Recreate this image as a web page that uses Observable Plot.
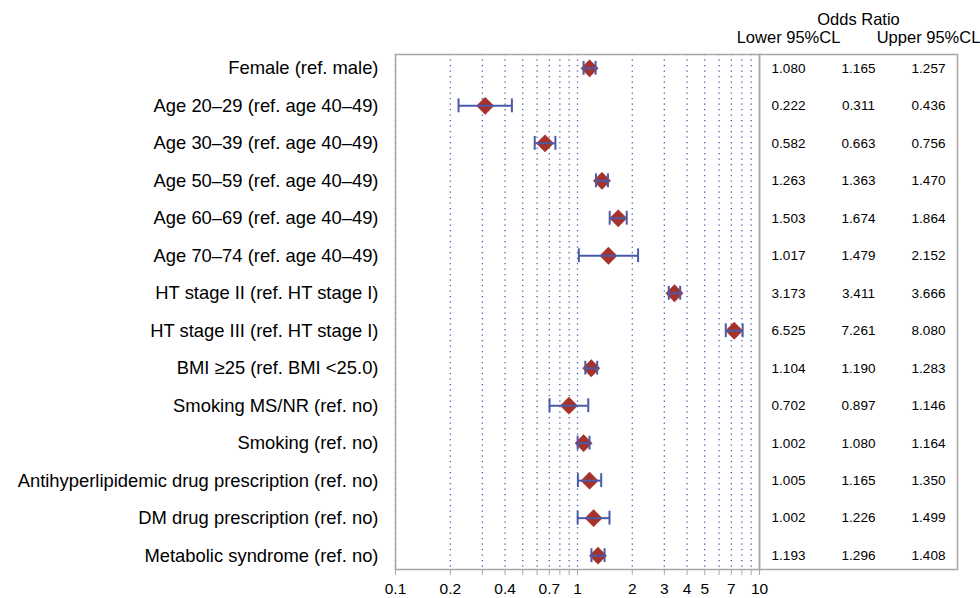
<!DOCTYPE html>
<html><head><meta charset="utf-8">
<script src="https://cdn.jsdelivr.net/npm/d3@7"></script>
<script src="https://cdn.jsdelivr.net/npm/@observablehq/plot@0.6"></script>
<style>
body{margin:0;background:#fff;font-family:"Liberation Sans",Arial,sans-serif}
#wrap{position:relative;width:980px;height:598px;background:#fff}
#wrap svg{position:absolute;top:0}
</style></head><body><div id="wrap"></div>
<script>
const labels = [
  "Female (ref. male)",
  "Age 20–29 (ref. age 40–49)",
  "Age 30–39 (ref. age 40–49)",
  "Age 50–59 (ref. age 40–49)",
  "Age 60–69 (ref. age 40–49)",
  "Age 70–74 (ref. age 40–49)",
  "HT stage II (ref. HT stage I)",
  "HT stage III (ref. HT stage I)",
  "BMI ≥25 (ref. BMI <25.0)",
  "Smoking MS/NR (ref. no)",
  "Smoking (ref. no)",
  "Antihyperlipidemic drug prescription (ref. no)",
  "DM drug prescription (ref. no)",
  "Metabolic syndrome (ref. no)"
];
const lower     = [1.080, 0.222, 0.582, 1.263, 1.503, 1.017, 3.173, 6.525, 1.104, 0.702, 1.002, 1.005, 1.002, 1.193];
const oddsRatio = [1.165, 0.311, 0.663, 1.363, 1.674, 1.479, 3.411, 7.261, 1.190, 0.897, 1.080, 1.165, 1.226, 1.296];
const upper     = [1.257, 0.436, 0.756, 1.470, 1.864, 2.152, 3.666, 8.080, 1.283, 1.146, 1.164, 1.350, 1.499, 1.408];

const xTicks = [0.1,0.2,0.3,0.4,0.5,0.6,0.7,0.8,0.9,1,2,3,4,5,6,7,8,9,10];
const xTickLabels = [0.1,0.2,0.4,0.7,1,2,3,4,5,7,10];
const gridValues = [0.1,0.2,0.3,0.4,0.5,0.6,0.7,0.8,0.9,1,2,3,4,5,6,7,8,9];

const columnKeys = ["lower","or","upper"];
const headerTop = ["Odds Ratio"];
const headerSub = ["Lower 95%CL","Upper 95%CL"];

const rows = labels.map((label, i) => ({label, lower: lower[i], or: oddsRatio[i], upper: upper[i]}));
const tableCells = rows.flatMap(r => columnKeys.map(k => ({label: r.label, col: k, text: r[k].toFixed(3)})));

const H = 598, MT = 54, MB = 29;
const yScale = {domain: labels, type: "band", paddingInner: 0.63, paddingOuter: 0.185, round: false};
const blue = "#4a5aa8", red = "#a5322b", grey = "#a6a6a6";
const FONT = '"Liberation Sans", Arial, sans-serif';

const main = Plot.plot({
  width: 980, height: H,
  marginLeft: 395, marginRight: 221, marginTop: MT, marginBottom: MB,
  style: {fontFamily: FONT, color: "black", background: "transparent", overflow: "visible"},
  x: {type: "log", domain: [0.1, 10], nice: false},
  y: yScale,
  marks: [
    Plot.ruleX(gridValues, {stroke: blue, strokeWidth: 1.3, strokeDasharray: "1.3,4.2"}),
    Plot.frame({stroke: grey, strokeWidth: 1.5}),
    Plot.axisX({ticks: xTicks, tickSize: 6, stroke: grey, tickFormat: () => "", label: null}),
    Plot.text(xTickLabels, {x: d => d, text: d => String(d), frameAnchor: "bottom", lineAnchor: "middle", dy: 20, fontSize: 15.5, fill: "black"}),
    Plot.axisY({tickSize: 0, tickPadding: 17, fontSize: 18.4, fill: "black", label: null}),
    Plot.dot(rows, {x: "or", y: "label", symbol: "diamond2", r: 7.8, fill: red, stroke: red, strokeWidth: 0.5}),
    Plot.ruleY(rows, {y: "label", x1: "lower", x2: "upper", stroke: blue, strokeWidth: 2}),
    Plot.tickX(rows, {x: "lower", y: "label", stroke: blue, strokeWidth: 2}),
    Plot.tickX(rows, {x: "upper", y: "label", stroke: blue, strokeWidth: 2})
  ]
});

const table = Plot.plot({
  width: 221, height: H,
  marginLeft: 0, marginRight: 23, marginTop: MT, marginBottom: MB,
  style: {fontFamily: FONT, color: "black", background: "transparent", overflow: "visible"},
  x: {type: "point", domain: columnKeys, padding: 0.414, axis: null},
  y: {...yScale, axis: null},
  marks: [
    Plot.frame({stroke: grey, strokeWidth: 1.5}),
    Plot.text(tableCells, {x: "col", y: "label", text: "text", fontSize: 13.5, fill: "black"}),
    Plot.text(headerTop, {x: () => "or", text: d => d, frameAnchor: "top", lineAnchor: "middle", dy: -35, fontSize: 16.5, fill: "black"}),
    Plot.text(headerSub, {x: (d, i) => i === 0 ? "lower" : "upper", text: d => d, frameAnchor: "top", lineAnchor: "middle", dy: -17, fontSize: 16.5, fill: "black"})
  ]
});

const wrap = document.getElementById("wrap");
main.style.left = "0px";
table.style.left = "759px";
wrap.appendChild(main);
wrap.appendChild(table);
</script>
</body></html>
